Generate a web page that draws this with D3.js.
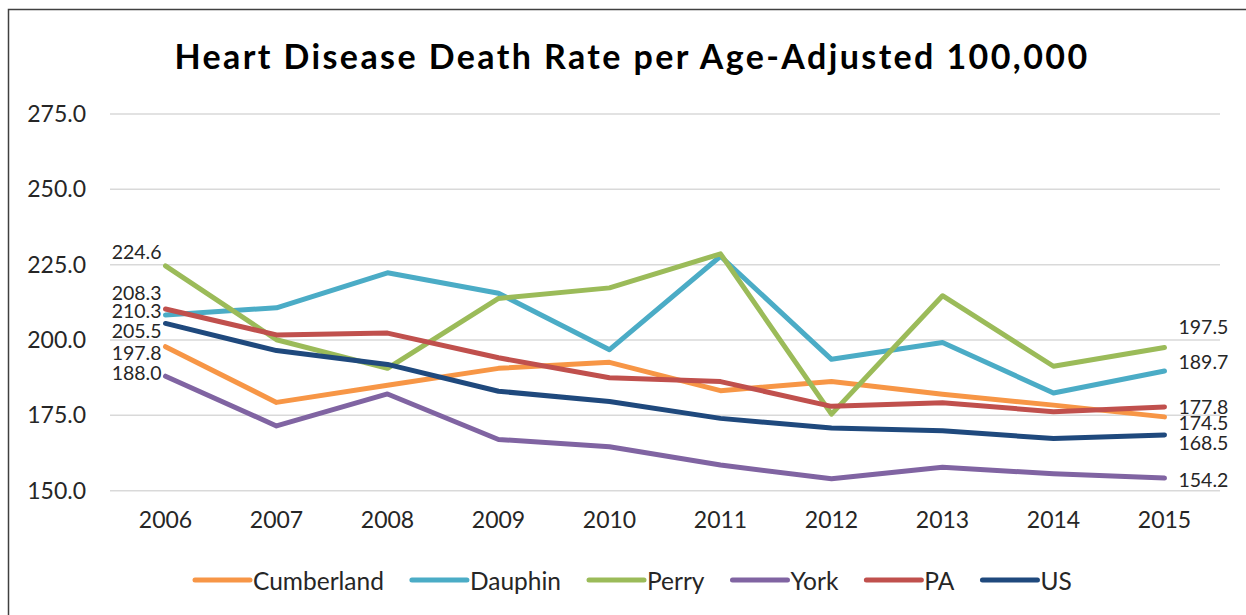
<!DOCTYPE html>
<html>
<head>
<meta charset="utf-8">
<script src="https://cdn.jsdelivr.net/npm/d3@7"></script>
<style>
  html, body { margin: 0; padding: 0; background: #fff; }
  svg { display: block; font-family: Lato, "Open Sans", sans-serif; }
</style>
</head>
<body>
<svg id="chart" width="1246" height="615"></svg>
<script>
// Heart disease death rates per 100,000 (age-adjusted), 2006–2015
const years = ["2006", "2007", "2008", "2009", "2010", "2011", "2012", "2013", "2014", "2015"];
const seriesNames = ["Cumberland", "Dauphin", "Perry", "York", "PA", "US"];
const cumberland = [197.8, 179.3, 185.0, 190.6, 192.6, 183.2, 186.2, 182.0, 178.4, 174.5];
const dauphin    = [208.3, 210.7, 222.3, 215.5, 196.8, 227.8, 193.6, 199.2, 182.4, 189.7];
const perry      = [224.6, 200.1, 190.6, 213.8, 217.3, 228.6, 175.4, 214.7, 191.3, 197.5];
const york       = [188.0, 171.5, 182.1, 167.0, 164.6, 158.5, 154.0, 157.8, 155.6, 154.2];
const pa         = [210.3, 201.7, 202.3, 194.1, 187.5, 186.2, 178.0, 179.2, 176.2, 177.8];
const us         = [205.5, 196.5, 191.9, 183.0, 179.6, 174.0, 170.8, 169.9, 167.3, 168.5];
const yTicks = [150, 175, 200, 225, 250, 275];
const colors = ["#F79646", "#4BACC6", "#9BBB59", "#8064A2", "#C0504D", "#1F497D"];

const allSeries = [cumberland, dauphin, perry, york, pa, us];

// Vertical nudges (px) for the first/last value labels so they don't collide
const startLabelDy = [5.5, -23, -14, -4, 1.5, 7];
const endLabelDy   = [6, -10, -21, 1, 0, 7.5];

const svg = d3.select("#chart");

// Outer frame
svg.append("rect")
  .attr("x", 8.5).attr("y", 9.5)
  .attr("width", 1260).attr("height", 640)
  .attr("fill", "none")
  .attr("stroke", "#404040")
  .attr("stroke-width", 1.5);

const plotLeft = 110, plotRight = 1220;
const x = d3.scaleBand().domain(years).range([plotLeft, plotRight]);
const y = d3.scaleLinear().domain([150, 275]).range([490.7, 114]);
const cx = d => x(d) + x.bandwidth() / 2;

// Title
svg.append("text")
  .attr("x", 632).attr("y", 55)
  .attr("text-anchor", "middle")
  .attr("dominant-baseline", "central")
  .attr("font-weight", "bold")
  .attr("font-size", 34)
  .attr("letter-spacing", 2.4)
  .attr("fill", "#000")
  .text("Heart Disease Death Rate per Age-Adjusted 100,000");

// Gridlines
svg.append("g")
  .selectAll("line")
  .data(yTicks)
  .join("line")
  .attr("x1", plotLeft).attr("x2", plotRight)
  .attr("y1", d => y(d)).attr("y2", d => y(d))
  .attr("stroke", "#D9D9D9")
  .attr("stroke-width", 1.5);

// Y axis labels
const yAxis = d3.axisLeft(y).tickValues(yTicks).tickFormat(d3.format(".1f")).tickSize(0).tickPadding(0);
const gy = svg.append("g").attr("transform", "translate(86,0)").call(yAxis);
gy.select(".domain").remove();
gy.selectAll("text")
  .attr("font-family", "Lato, sans-serif")
  .attr("font-size", 23)
  .attr("fill", "#262626");

// X axis labels
const xAxis = d3.axisBottom(x).tickSize(0).tickPadding(0);
const gx = svg.append("g").attr("transform", "translate(0,516)").call(xAxis);
gx.select(".domain").remove();
gx.selectAll("text")
  .attr("font-family", "Lato, sans-serif")
  .attr("font-size", 23)
  .attr("dy", "0.5em")
  .attr("fill", "#262626");

// Series lines
const line = d3.line()
  .x((d, i) => cx(years[i]))
  .y(d => y(d));

svg.append("g")
  .selectAll("path")
  .data(allSeries)
  .join("path")
  .attr("d", d => line(d))
  .attr("fill", "none")
  .attr("stroke", (d, i) => colors[i])
  .attr("stroke-width", 5)
  .attr("stroke-linejoin", "round")
  .attr("stroke-linecap", "round");

// Value labels at the first and last year
const labels = svg.append("g")
  .attr("font-family", "Lato, sans-serif")
  .attr("font-size", 19.5)
  .attr("fill", "#262626");

allSeries.forEach((vals, i) => {
  labels.append("text")
    .attr("x", cx(years[0]) - 4)
    .attr("y", y(vals[0]) + startLabelDy[i])
    .attr("text-anchor", "end")
    .attr("dominant-baseline", "central")
    .text(d3.format(".1f")(vals[0]));
  const last = vals.length - 1;
  labels.append("text")
    .attr("x", cx(years[last]) + 14)
    .attr("y", y(vals[last]) + endLabelDy[i])
    .attr("text-anchor", "start")
    .attr("dominant-baseline", "central")
    .text(d3.format(".1f")(vals[last]));
});

// Legend
const legend = svg.append("g").attr("transform", "translate(0,580)");
let lx = 192;
seriesNames.forEach((name, i) => {
  const item = legend.append("g").attr("transform", `translate(${lx},0)`);
  item.append("line")
    .attr("x1", 3).attr("x2", 58)
    .attr("y1", 0).attr("y2", 0)
    .attr("stroke", colors[i])
    .attr("stroke-width", 5)
    .attr("stroke-linecap", "round");
  const t = item.append("text")
    .attr("x", 61)
    .attr("y", 0)
    .attr("dominant-baseline", "central")
    .attr("font-family", "Lato, sans-serif")
    .attr("font-size", 24.5)
    .attr("fill", "#262626")
    .text(name);
  lx += 61 + t.node().getComputedTextLength() + 25;
});
</script>
</body>
</html>
